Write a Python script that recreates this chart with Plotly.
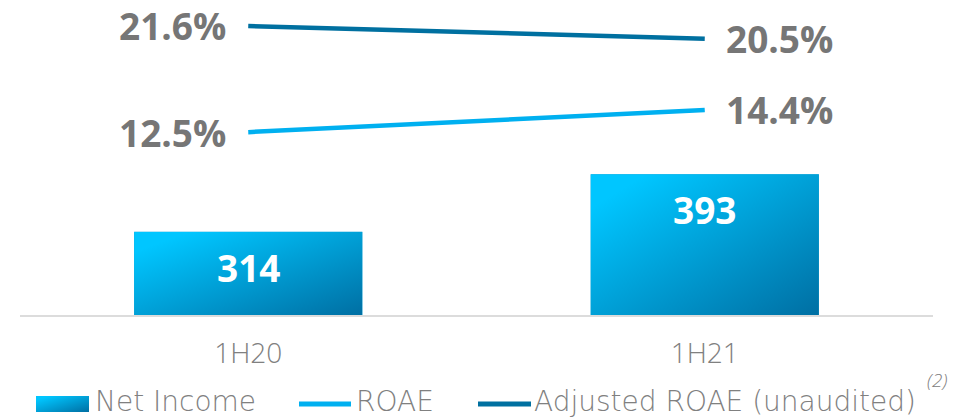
import base64
import plotly.graph_objects as go

# ---- data ----
periods = ["1H20", "1H21"]
net_income = [314, 393]
roae = [12.5, 14.4]
adjusted_roae = [21.6, 20.5]

# ---- style ----
W, H = 964, 417
M_L, M_R, M_T, M_B = 20, 31, 5, 102
PLOT_W = W - M_L - M_R
PLOT_H = H - M_T - M_B
BAR_FLOOR = 200
BAR_WIDTH = 0.5
LIGHT_BLUE = "#00B0F0"
DARK_BLUE = "#0070A0"
LABEL_GREY = "#767676"
TEXT_GREY = "#808080"
BOLD_FONT = "Open Sans"
THIN_FONT = "Open Sans"
LEGEND_FONT = "DejaVu Sans"

xs = list(range(len(periods)))


def gradient_uri(c0, c1):
    svg = (
        '<svg xmlns="http://www.w3.org/2000/svg" width="100" height="100" '
        'viewBox="0 0 100 100" preserveAspectRatio="none">'
        '<defs><linearGradient id="g" x1="0" y1="0" x2="1" y2="1">'
        f'<stop offset="0" stop-color="{c0}"/><stop offset="0.12" stop-color="{c0}"/>'
        f'<stop offset="1" stop-color="{c1}"/></linearGradient></defs>'
        '<rect width="100" height="100" fill="url(#g)"/></svg>'
    )
    return "data:image/svg+xml;base64," + base64.b64encode(svg.encode()).decode()


BAR_FILL = gradient_uri("#00C6FF", "#006FA3")


def px_x(px):
    return (px - M_L) / PLOT_W


def px_y(py):
    return (H - M_B - py) / PLOT_H


fig = go.Figure()

fig.add_trace(go.Bar(
    x=xs, y=net_income, width=BAR_WIDTH, name="Net Income",
    marker=dict(color="#009BD3", line=dict(width=0)), showlegend=False,
))
fig.add_trace(go.Scatter(
    x=xs, y=roae, name="ROAE", yaxis="y2", mode="lines",
    line=dict(color=LIGHT_BLUE, width=4.5), showlegend=False,
))
fig.add_trace(go.Scatter(
    x=xs, y=adjusted_roae, name="Adjusted ROAE (unaudited)", yaxis="y2", mode="lines",
    line=dict(color=DARK_BLUE, width=4.5), showlegend=False,
))

images = []
annotations = []

# gradient fill laid over each bar, sized from its value
for x, v in zip(xs, net_income):
    images.append(dict(
        source=BAR_FILL, xref="x", yref="y",
        x=x - BAR_WIDTH / 2, y=v, sizex=BAR_WIDTH, sizey=v - BAR_FLOOR,
        xanchor="left", yanchor="top", sizing="stretch", layer="above",
    ))
    annotations.append(dict(
        x=x, y=v, xref="x", yref="y", text=f"<b>{v}</b>", showarrow=False,
        yanchor="top", yshift=-8,
        font=dict(family=BOLD_FONT, size=37, color="white"),
    ))

# percentage labels at both ends of each line
for series in (roae, adjusted_roae):
    annotations.append(dict(
        x=xs[0], y=series[0], xref="x", yref="y2", text=f"<b>{series[0]:.1f}%</b>",
        showarrow=False, xanchor="right", yanchor="middle", xshift=-20, yshift=0,
        font=dict(family=BOLD_FONT, size=37, color=LABEL_GREY),
    ))
    annotations.append(dict(
        x=xs[-1], y=series[-1], xref="x", yref="y2", text=f"<b>{series[-1]:.1f}%</b>",
        showarrow=False, xanchor="left", yanchor="middle", xshift=19, yshift=0,
        font=dict(family=BOLD_FONT, size=37, color=LABEL_GREY),
    ))

# ---- legend ----
LEG_Y = 404
legend_font = dict(family=LEGEND_FONT, size=28, color=TEXT_GREY, weight=200)
images.append(dict(
    source=BAR_FILL, xref="paper", yref="paper",
    x=px_x(36), y=px_y(396), sizex=53 / PLOT_W, sizey=16 / PLOT_H,
    xanchor="left", yanchor="top", sizing="stretch", layer="above",
))
shapes = [
    dict(type="line", xref="paper", yref="paper", x0=px_x(299), x1=px_x(351),
         y0=px_y(LEG_Y), y1=px_y(LEG_Y), line=dict(color=LIGHT_BLUE, width=5)),
    dict(type="line", xref="paper", yref="paper", x0=px_x(478), x1=px_x(531),
         y0=px_y(LEG_Y), y1=px_y(LEG_Y), line=dict(color=DARK_BLUE, width=5)),
]
for label, left in (("Net Income", 94), ("ROAE", 355), ("Adjusted ROAE (unaudited)", 533)):
    annotations.append(dict(
        x=px_x(left), y=px_y(417), xref="paper", yref="paper", text=label,
        showarrow=False, xanchor="left", yanchor="bottom", borderpad=0,
        yshift=-2, font=legend_font,
    ))
annotations.append(dict(
    x=px_x(925), y=px_y(380), xref="paper", yref="paper", text="<i>(2)</i>",
    showarrow=False, xanchor="left", yanchor="middle",
    font=dict(family=THIN_FONT, size=19, color=TEXT_GREY, weight=300),
))

fig.update_layout(
    width=W, height=H,
    margin=dict(l=M_L, r=M_R, t=M_T, b=M_B),
    paper_bgcolor="white", plot_bgcolor="white",
    showlegend=False,
    xaxis=dict(
        range=[-0.5, 1.5], tickvals=xs, ticktext=periods,
        showline=True, linecolor="#DCDCDC", linewidth=2, showgrid=False,
        zeroline=False, ticks="", ticklabelstandoff=12,
        tickfont=dict(family=THIN_FONT, size=28, color=TEXT_GREY, weight=300),
    ),
    yaxis=dict(range=[BAR_FLOOR, 625], visible=False, showgrid=False, zeroline=False),
    yaxis2=dict(range=[-3.18, 23.40], overlaying="y", visible=False,
                showgrid=False, zeroline=False),
    images=images, shapes=shapes, annotations=annotations,
)

fig.write_html("out.html")
